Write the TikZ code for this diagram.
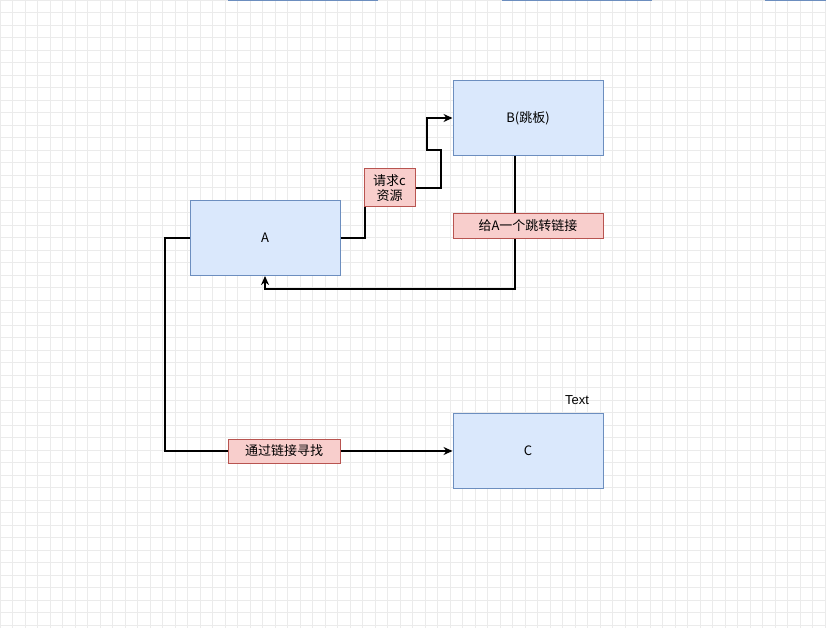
\documentclass[tikz,border=0pt]{standalone}
\usepackage{fontspec}
\setmainfont{Liberation Sans}
\newfontfamily\cjk{Noto Sans CJK SC}
\usetikzlibrary{positioning,arrows.meta}
\definecolor{boxfill}{HTML}{DAE8FC}
\definecolor{boxline}{HTML}{6C8EBF}
\definecolor{tagfill}{HTML}{F8CECC}
\definecolor{tagline}{HTML}{B85450}
\tikzset{mybox/.style={draw=boxline,fill=boxfill,line width=1pt,minimum width=150pt,minimum height=75pt,font=\cjk\fontsize{13}{15}\selectfont}}
\tikzset{mytag/.style={draw=tagline,fill=tagfill,line width=1pt,inner sep=1.5pt,font=\cjk\fontsize{13}{15}\selectfont,align=center}}
\tikzset{myline/.style={line width=1.5pt}}
\tikzset{myarrow/.style={myline,-{Stealth[length=9pt,width=8pt]}}}

\begin{document}
\begin{tikzpicture}[x=1pt,y=-1pt]
	\useasboundingbox (0,0) rectangle (826,628);
	\fill[white] (0,0) rectangle (826,628);
	\draw[black!8,step=12.5pt] (0,0) grid (826,628);
	\draw[boxline,line width=1.5pt] (228,0) -- (378,0) (502,0) -- (652,0) (765,0) -- (826,0);

	\node[mybox] (A) at (265,238) {A};
	\node[mybox] (B) at (528,118) {B(跳板)};
	\node[mybox] (C) at (528,451) {C};
	\node[font=\fontsize{13}{15}\selectfont] (txt) at (577,400) {Text};

	\coordinate (a1) at (365,238);
	\coordinate (a2) at (441,188);
	\draw[myarrow] (A.east) -- (a1) |- (a2) -- (441,150) -- (427,150) |- (B.west);
	\node[mytag,minimum width=51pt,minimum height=38pt,inner sep=0pt] (req) at (389.5,188) {请求c\\资源};

	\coordinate (b1) at (515,289);
	\draw[myarrow] (B.south -| b1) -- (b1) -| (A.south);
	\node[mytag,minimum width=150pt,minimum height=24pt] (give) at (528,226) {给A一个跳转链接};

	\coordinate (c1) at (165,238);
	\draw[myarrow] (A.west) -- (c1) |- (C.west);
	\node[mytag,minimum width=112pt,minimum height=24pt] (find) at (284,451) {通过链接寻找};
\end{tikzpicture}
\end{document}
